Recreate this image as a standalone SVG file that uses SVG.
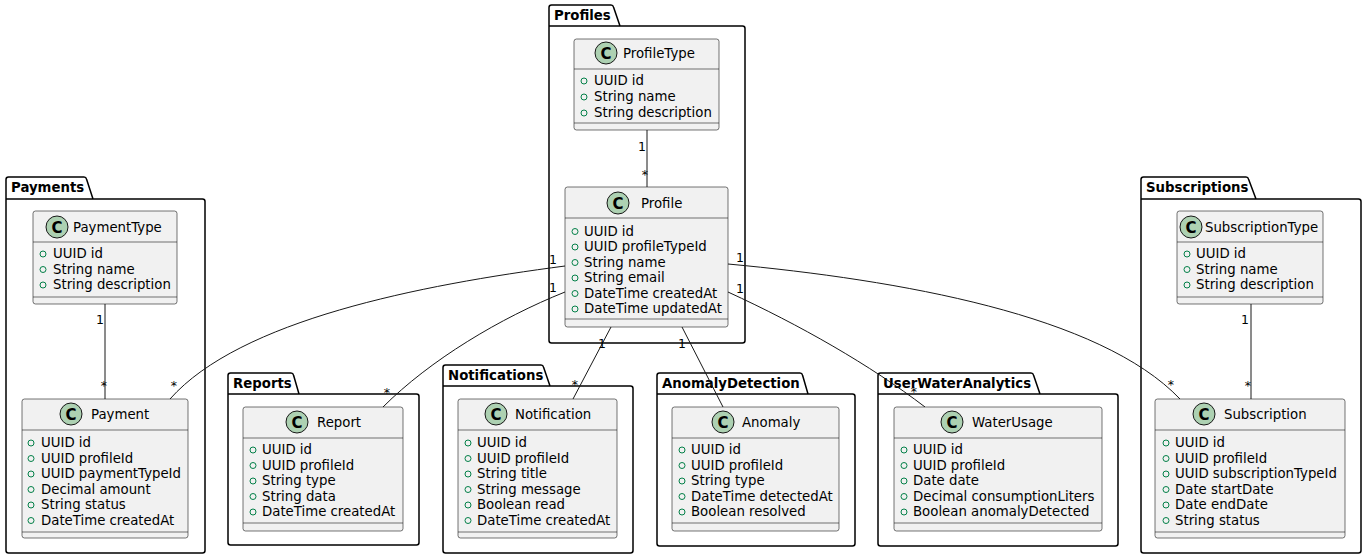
<svg xmlns="http://www.w3.org/2000/svg" width="1365" height="559" viewBox="0 0 1365 559">
<style>
text{font-family:"DejaVu Sans","Liberation Sans",sans-serif;font-size:13.3px;fill:#000}
.pkg{fill:none;stroke:#000;stroke-width:1.5}
.pt{font-weight:bold}
.box{fill:#F1F1F1;stroke:#181818;stroke-width:0.6}
.sep{stroke:#181818;stroke-width:0.6}
.ci{fill:#ADD1B2;stroke:#181818;stroke-width:1}
.cl{font-weight:bold;font-size:15px;text-anchor:middle}
.dot{fill:none;stroke:#038048;stroke-width:1}
.edge{fill:none;stroke:#181818;stroke-width:1}
.m{font-size:12.5px}
.e{text-anchor:end}
</style>
<rect width="1365" height="559" fill="#fff"/>

<g id="pkg-Profiles">
<path class="pkg" d="M549,26 L549,7.5 Q549,5 551.5,5 L611,5 Q613,5 613.5,7 L620,26 L742.5,26 Q745,26 745,28.5 L745,340.5 Q745,343 742.5,343 L551.5,343 Q549,343 549,340.5 Z M549,26 L620,26"/>
<text class="pt" x="554" y="20">Profiles</text>
</g>
<g id="pkg-Payments">
<path class="pkg" d="M6,199 L6,179.5 Q6,177 8.5,177 L84,177 Q86,177 86.5,179 L93,199 L202.5,199 Q205,199 205,201.5 L205,550.5 Q205,553 202.5,553 L8.5,553 Q6,553 6,550.5 Z M6,199 L93,199"/>
<text class="pt" x="11" y="192">Payments</text>
</g>
<g id="pkg-Reports">
<path class="pkg" d="M228,394 L228,375.5 Q228,373 230.5,373 L291,373 Q293,373 293.5,375 L299,394 L416.5,394 Q419,394 419,396.5 L419,542.5 Q419,545 416.5,545 L230.5,545 Q228,545 228,542.5 Z M228,394 L299,394"/>
<text class="pt" x="233" y="388">Reports</text>
</g>
<g id="pkg-Notifications">
<path class="pkg" d="M443,386 L443,367.5 Q443,365 445.5,365 L541,365 Q543,365 543.5,367 L550,386 L630.5,386 Q633,386 633,388.5 L633,550.5 Q633,553 630.5,553 L445.5,553 Q443,553 443,550.5 Z M443,386 L550,386"/>
<text class="pt" x="448" y="380">Notifications</text>
</g>
<g id="pkg-AnomalyDetection">
<path class="pkg" d="M657,394 L657,375.5 Q657,373 659.5,373 L800,373 Q802,373 802.5,375 L808,394 L852.5,394 Q855,394 855,396.5 L855,543.5 Q855,546 852.5,546 L659.5,546 Q657,546 657,543.5 Z M657,394 L808,394"/>
<text class="pt" x="662" y="388">AnomalyDetection</text>
</g>
<g id="pkg-UserWaterAnalytics">
<path class="pkg" d="M878,394 L878,375.5 Q878,373 880.5,373 L1031,373 Q1033,373 1033.5,375 L1040,394 L1115.5,394 Q1118,394 1118,396.5 L1118,543.5 Q1118,546 1115.5,546 L880.5,546 Q878,546 878,543.5 Z M878,394 L1040,394"/>
<text class="pt" x="883" y="388">UserWaterAnalytics</text>
</g>
<g id="pkg-Subscriptions">
<path class="pkg" d="M1141,199 L1141,179.5 Q1141,177 1143.5,177 L1246,177 Q1248,177 1248.5,179 L1256,199 L1358.5,199 Q1361,199 1361,201.5 L1361,550.5 Q1361,553 1358.5,553 L1143.5,553 Q1141,553 1141,550.5 Z M1141,199 L1256,199"/>
<text class="pt" x="1146" y="192">Subscriptions</text>
</g>

<g id="connectors">
<path class="edge" d="M647,130 L647,187"/>
<path class="edge" d="M105,304 L105,399"/>
<path class="edge" d="M1251,304 L1251,399"/>
<path class="edge" d="M565,266 C420,285 240,320 170,399"/>
<path class="edge" d="M565,292 C500,318 430,360 383,407"/>
<path class="edge" d="M611,327 L573,399"/>
<path class="edge" d="M682,327 L723,407"/>
<path class="edge" d="M728,292 C800,325 870,365 925,407"/>
<path class="edge" d="M728,264 C900,280 1100,315 1180,399"/>
<text class="m e" x="646" y="151">1</text>
<text class="m e" x="648" y="179">*</text>
<text class="m e" x="104" y="324">1</text>
<text class="m e" x="107" y="390">*</text>
<text class="m e" x="177" y="390">*</text>
<text class="m e" x="1249" y="324">1</text>
<text class="m e" x="1251" y="390">*</text>
<text class="m e" x="557" y="264">1</text>
<text class="m e" x="557" y="292">1</text>
<text class="m" x="736" y="262">1</text>
<text class="m" x="736" y="293">1</text>
<text class="m e" x="606" y="348">1</text>
<text class="m e" x="686" y="348">1</text>
<text class="m e" x="390" y="397">*</text>
<text class="m e" x="578" y="389">*</text>
<text class="m e" x="917" y="396">*</text>
<text class="m e" x="1174" y="389">*</text>
</g>

<g id="ProfileType">
<rect class="box" x="574" y="39" width="145" height="91" rx="2.5"/>
<line class="sep" x1="574" y1="69" x2="719" y2="69"/>
<line class="sep" x1="574" y1="123" x2="719" y2="123"/>
<circle class="ci" cx="606" cy="53" r="11"/>
<text class="cl" x="606" y="58.5">C</text>
<text x="623" y="58">ProfileType</text>
<circle class="dot" cx="584" cy="81" r="3"/><text x="594" y="85">UUID id</text>
<circle class="dot" cx="584" cy="97" r="3"/><text x="594" y="101">String name</text>
<circle class="dot" cx="584" cy="113" r="3"/><text x="594" y="117">String description</text>
</g>

<g id="Profile">
<rect class="box" x="565" y="187" width="163" height="140" rx="2.5"/>
<line class="sep" x1="565" y1="218" x2="728" y2="218"/>
<line class="sep" x1="565" y1="319" x2="728" y2="319"/>
<circle class="ci" cx="618" cy="203" r="11"/>
<text class="cl" x="618" y="208.5">C</text>
<text x="641" y="208">Profile</text>
<circle class="dot" cx="575" cy="231.5" r="3"/><text x="584" y="235.5">UUID id</text>
<circle class="dot" cx="575" cy="247" r="3"/><text x="584" y="251">UUID profileTypeId</text>
<circle class="dot" cx="575" cy="262.5" r="3"/><text x="584" y="266.5">String name</text>
<circle class="dot" cx="575" cy="278" r="3"/><text x="584" y="282">String email</text>
<circle class="dot" cx="575" cy="293.5" r="3"/><text x="584" y="297.5">DateTime createdAt</text>
<circle class="dot" cx="575" cy="309" r="3"/><text x="584" y="313">DateTime updatedAt</text>
</g>

<g id="PaymentType">
<rect class="box" x="33" y="211" width="144" height="93" rx="2.5"/>
<line class="sep" x1="33" y1="242" x2="177" y2="242"/>
<line class="sep" x1="33" y1="297" x2="177" y2="297"/>
<circle class="ci" cx="57" cy="227" r="11"/>
<text class="cl" x="57" y="232.5">C</text>
<text x="73" y="232">PaymentType</text>
<circle class="dot" cx="43" cy="254" r="3"/><text x="53" y="258">UUID id</text>
<circle class="dot" cx="43" cy="269.5" r="3"/><text x="53" y="273.5">String name</text>
<circle class="dot" cx="43" cy="285" r="3"/><text x="53" y="289">String description</text>
</g>

<g id="Payment">
<rect class="box" x="22" y="399" width="166" height="139" rx="2.5"/>
<line class="sep" x1="22" y1="430" x2="188" y2="430"/>
<line class="sep" x1="22" y1="532" x2="188" y2="532"/>
<circle class="ci" cx="71" cy="414" r="11"/>
<text class="cl" x="71" y="419.5">C</text>
<text x="91" y="419">Payment</text>
<circle class="dot" cx="31" cy="443" r="3"/><text x="41" y="447">UUID id</text>
<circle class="dot" cx="31" cy="458.5" r="3"/><text x="41" y="462.5">UUID profileId</text>
<circle class="dot" cx="31" cy="474" r="3"/><text x="41" y="478">UUID paymentTypeId</text>
<circle class="dot" cx="31" cy="489.5" r="3"/><text x="41" y="493.5">Decimal amount</text>
<circle class="dot" cx="31" cy="505" r="3"/><text x="41" y="509">String status</text>
<circle class="dot" cx="31" cy="520.5" r="3"/><text x="41" y="524.5">DateTime createdAt</text>
</g>

<g id="Report">
<rect class="box" x="243" y="407" width="160" height="124" rx="2.5"/>
<line class="sep" x1="243" y1="438" x2="403" y2="438"/>
<line class="sep" x1="243" y1="523" x2="403" y2="523"/>
<circle class="ci" cx="297" cy="422" r="11"/>
<text class="cl" x="297" y="427.5">C</text>
<text x="317" y="427">Report</text>
<circle class="dot" cx="253" cy="450" r="3"/><text x="262" y="454">UUID id</text>
<circle class="dot" cx="253" cy="465.5" r="3"/><text x="262" y="469.5">UUID profileId</text>
<circle class="dot" cx="253" cy="481" r="3"/><text x="262" y="485">String type</text>
<circle class="dot" cx="253" cy="496.5" r="3"/><text x="262" y="500.5">String data</text>
<circle class="dot" cx="253" cy="512" r="3"/><text x="262" y="516">DateTime createdAt</text>
</g>

<g id="Notification">
<rect class="box" x="458" y="399" width="159" height="139" rx="2.5"/>
<line class="sep" x1="458" y1="430" x2="617" y2="430"/>
<line class="sep" x1="458" y1="532" x2="617" y2="532"/>
<circle class="ci" cx="496" cy="414" r="11"/>
<text class="cl" x="496" y="419.5">C</text>
<text x="515" y="419">Notification</text>
<circle class="dot" cx="468" cy="443" r="3"/><text x="477" y="447">UUID id</text>
<circle class="dot" cx="468" cy="458.5" r="3"/><text x="477" y="462.5">UUID profileId</text>
<circle class="dot" cx="468" cy="474" r="3"/><text x="477" y="478">String title</text>
<circle class="dot" cx="468" cy="489.5" r="3"/><text x="477" y="493.5">String message</text>
<circle class="dot" cx="468" cy="505" r="3"/><text x="477" y="509">Boolean read</text>
<circle class="dot" cx="468" cy="520.5" r="3"/><text x="477" y="524.5">DateTime createdAt</text>
</g>

<g id="Anomaly">
<rect class="box" x="672" y="407" width="167" height="124" rx="2.5"/>
<line class="sep" x1="672" y1="438" x2="839" y2="438"/>
<line class="sep" x1="672" y1="523" x2="839" y2="523"/>
<circle class="ci" cx="723" cy="422" r="11"/>
<text class="cl" x="723" y="427.5">C</text>
<text x="742" y="427">Anomaly</text>
<circle class="dot" cx="682" cy="450" r="3"/><text x="691" y="454">UUID id</text>
<circle class="dot" cx="682" cy="465.5" r="3"/><text x="691" y="469.5">UUID profileId</text>
<circle class="dot" cx="682" cy="481" r="3"/><text x="691" y="485">String type</text>
<circle class="dot" cx="682" cy="496.5" r="3"/><text x="691" y="500.5">DateTime detectedAt</text>
<circle class="dot" cx="682" cy="512" r="3"/><text x="691" y="516">Boolean resolved</text>
</g>

<g id="WaterUsage">
<rect class="box" x="894" y="407" width="208" height="124" rx="2.5"/>
<line class="sep" x1="894" y1="438" x2="1102" y2="438"/>
<line class="sep" x1="894" y1="523" x2="1102" y2="523"/>
<circle class="ci" cx="952" cy="422" r="11"/>
<text class="cl" x="952" y="427.5">C</text>
<text x="972" y="427">WaterUsage</text>
<circle class="dot" cx="904" cy="450" r="3"/><text x="913" y="454">UUID id</text>
<circle class="dot" cx="904" cy="465.5" r="3"/><text x="913" y="469.5">UUID profileId</text>
<circle class="dot" cx="904" cy="481" r="3"/><text x="913" y="485">Date date</text>
<circle class="dot" cx="904" cy="496.5" r="3"/><text x="913" y="500.5">Decimal consumptionLiters</text>
<circle class="dot" cx="904" cy="512" r="3"/><text x="913" y="516">Boolean anomalyDetected</text>
</g>

<g id="SubscriptionType">
<rect class="box" x="1177" y="211" width="146" height="93" rx="2.5"/>
<line class="sep" x1="1177" y1="242" x2="1323" y2="242"/>
<line class="sep" x1="1177" y1="297" x2="1323" y2="297"/>
<circle class="ci" cx="1191" cy="227" r="11"/>
<text class="cl" x="1191" y="232.5">C</text>
<text x="1205" y="232">SubscriptionType</text>
<circle class="dot" cx="1187" cy="254" r="3"/><text x="1196" y="258">UUID id</text>
<circle class="dot" cx="1187" cy="269.5" r="3"/><text x="1196" y="273.5">String name</text>
<circle class="dot" cx="1187" cy="285" r="3"/><text x="1196" y="289">String description</text>
</g>

<g id="Subscription">
<rect class="box" x="1155" y="399" width="190" height="139" rx="2.5"/>
<line class="sep" x1="1155" y1="430" x2="1345" y2="430"/>
<line class="sep" x1="1155" y1="532" x2="1345" y2="532"/>
<circle class="ci" cx="1204" cy="414" r="11"/>
<text class="cl" x="1204" y="419.5">C</text>
<text x="1224" y="419">Subscription</text>
<circle class="dot" cx="1166" cy="443" r="3"/><text x="1175" y="447">UUID id</text>
<circle class="dot" cx="1166" cy="458.5" r="3"/><text x="1175" y="462.5">UUID profileId</text>
<circle class="dot" cx="1166" cy="474" r="3"/><text x="1175" y="478">UUID subscriptionTypeId</text>
<circle class="dot" cx="1166" cy="489.5" r="3"/><text x="1175" y="493.5">Date startDate</text>
<circle class="dot" cx="1166" cy="505" r="3"/><text x="1175" y="509">Date endDate</text>
<circle class="dot" cx="1166" cy="520.5" r="3"/><text x="1175" y="524.5">String status</text>
</g>
</svg>
